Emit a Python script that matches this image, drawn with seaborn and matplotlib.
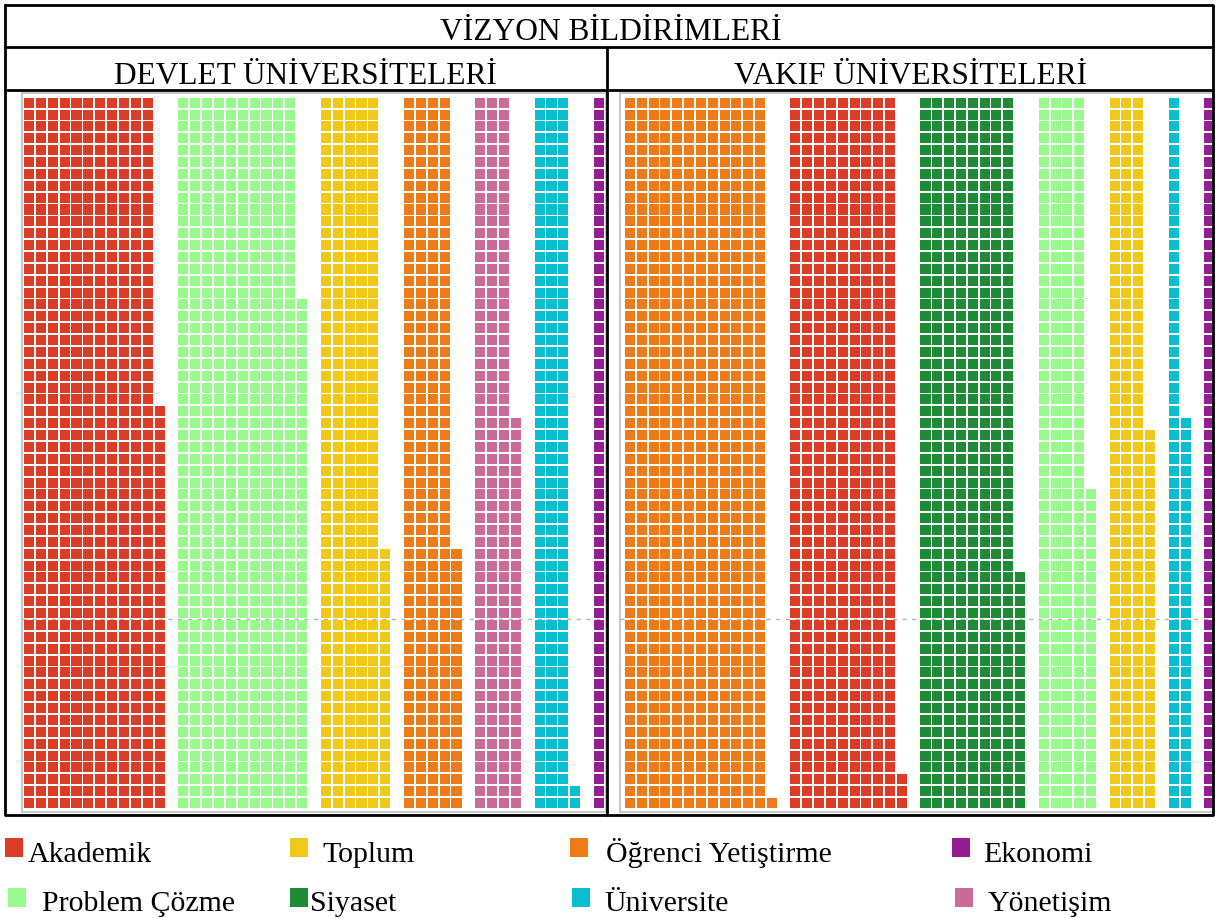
import pandas as pd
import matplotlib
matplotlib.use("Agg")
import matplotlib.pyplot as plt
from matplotlib.patches import Rectangle
import seaborn as sns

# one square = one statement, squares stacked in columns of 60
ROWS = 60

devlet_kategoriler = ["Akademik", "Problem Çözme", "Toplum", "Öğrenci Yetiştirme",
                      "Yönetişim", "Üniversite", "Ekonomi"]
devlet_sayilar = [694, 643, 322, 262, 213, 182, 60]

vakif_kategoriler = ["Öğrenci Yetiştirme", "Akademik", "Siyaset", "Problem Çözme",
                     "Toplum", "Üniversite", "Ekonomi"]
vakif_sayilar = [721, 543, 500, 267, 212, 93, 60]

legend_satir1 = ["Akademik", "Toplum", "Öğrenci Yetiştirme", "Ekonomi"]
legend_satir2 = ["Problem Çözme", "Siyaset", "Üniversite", "Yönetişim"]

renkler = {
    "Akademik": "#dc3b26",
    "Problem Çözme": "#98fa8c",
    "Toplum": "#f0c819",
    "Öğrenci Yetiştirme": "#ec7b18",
    "Yönetişim": "#cc6b97",
    "Üniversite": "#0bbecf",
    "Ekonomi": "#921e92",
    "Siyaset": "#1f8b36",
}

W, H = 1217, 918
ROW_PITCH = 11.87


def waffle_df(categories, counts, rows=ROWS):
    recs = []
    col0 = 0
    for cat, n in zip(categories, counts):
        for k in range(n):
            recs.append((col0 + k // rows, k % rows, cat))
        col0 += -(-n // rows) + 1   # used columns + one empty column
    return pd.DataFrame(recs, columns=["x", "y", "kategori"])


def panel(fig, df, left_px, right_px, first_cell_px, col_pitch):
    top_px, bottom_px = 93, 812
    ax = fig.add_axes([left_px / W, 1 - bottom_px / H,
                       (right_px - left_px) / W, (bottom_px - top_px) / H])
    ax.axhline(15.5, color="#b4b4b4", lw=1, ls=(0, (3, 4)), zorder=1)
    sns.scatterplot(data=df, x="x", y="y", hue="kategori", palette=renkler,
                    marker="s", s=52, linewidth=0, legend=False, ax=ax, zorder=2)
    x0 = first_cell_px + 5
    y0 = 808 - 5
    ax.set_xlim((left_px - x0) / col_pitch, (right_px - x0) / col_pitch)
    ax.set_ylim((y0 - bottom_px) / ROW_PITCH, (y0 - top_px) / ROW_PITCH)
    ax.set_xticks([])
    ax.set_yticks([])
    ax.set_xlabel("")
    ax.set_ylabel("")
    for s in ax.spines.values():
        s.set_color("#c8c8c8")
        s.set_linewidth(1.5)
    return ax


def main():
    sns.set_style("white")
    plt.rcParams["font.family"] = ["Liberation Serif", "DejaVu Serif"]
    plt.rcParams["text.color"] = "black"

    fig = plt.figure(figsize=(W / 100, H / 100), dpi=100)

    panel(fig, waffle_df(devlet_kategoriler, devlet_sayilar), 22, 606, 24, 11.875)
    panel(fig, waffle_df(vakif_kategoriler, vakif_sayilar), 620, 1213, 625, 11.82)

    # table frame, titles and legend drawn in pixel coordinates
    ov = fig.add_axes([0, 0, 1, 1], zorder=5)
    ov.set_xlim(0, W)
    ov.set_ylim(H, 0)
    ov.axis("off")

    lw = 2
    ov.plot([5, 1213, 1213, 5, 5], [5, 5, 815, 815, 5], color="black", lw=lw)
    ov.plot([5, 1213], [47, 47], color="black", lw=lw)
    ov.plot([5, 1213], [90, 90], color="black", lw=lw)
    ov.plot([607, 607], [47, 815], color="black", lw=lw)

    ov.text(611, 40, "VİZYON BİLDİRİMLERİ", ha="center", va="baseline", fontsize=22.7)
    ov.text(305, 84, "DEVLET ÜNİVERSİTELERİ", ha="center", va="baseline", fontsize=22.5)
    ov.text(910, 84, "VAKIF ÜNİVERSİTELERİ", ha="center", va="baseline", fontsize=22.5)

    marker_x1 = [5, 290, 570, 952]
    text_x1 = [28, 322, 606, 983]
    marker_x2 = [8, 290, 572, 955]
    text_x2 = [42, 310, 604, 988]
    for name, mx, tx in zip(legend_satir1, marker_x1, text_x1):
        ov.add_patch(Rectangle((mx, 838), 18, 19, color=renkler[name], lw=0))
        ov.text(tx, 862, name, ha="left", va="baseline", fontsize=21.5)
    for name, mx, tx in zip(legend_satir2, marker_x2, text_x2):
        ov.add_patch(Rectangle((mx, 888), 18, 19, color=renkler[name], lw=0))
        ov.text(tx, 911, name, ha="left", va="baseline", fontsize=21.5)

    fig.savefig("out.png", dpi=100)


if __name__ == "__main__":
    main()
